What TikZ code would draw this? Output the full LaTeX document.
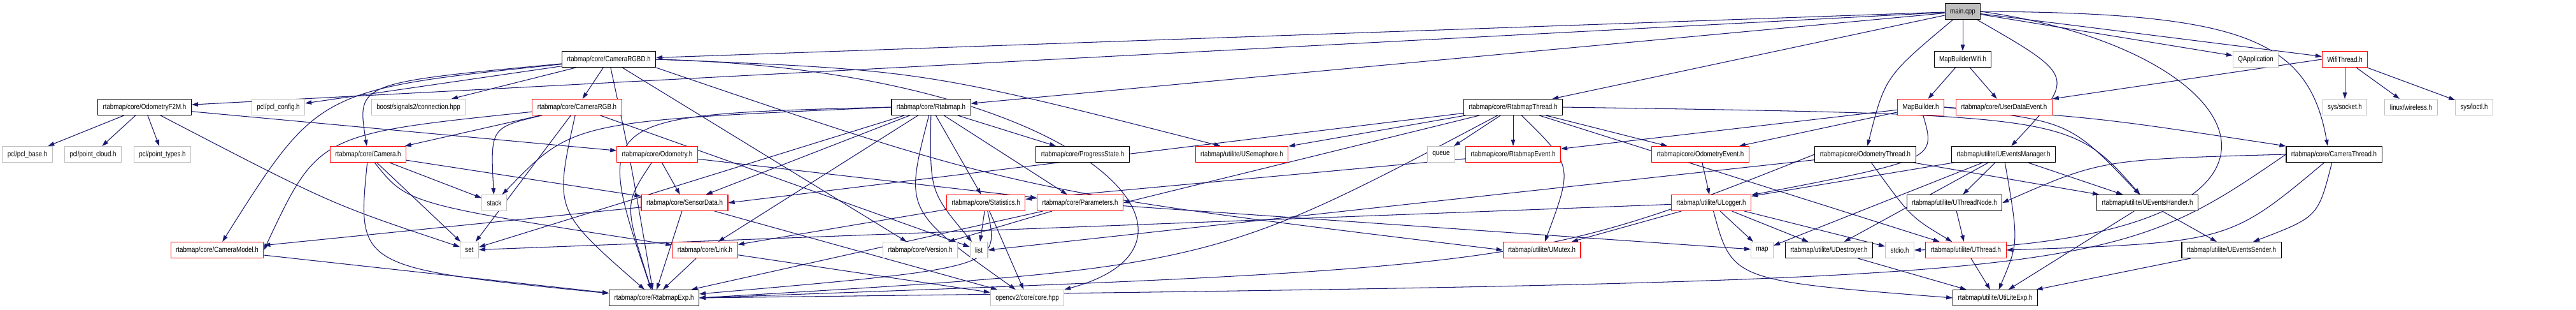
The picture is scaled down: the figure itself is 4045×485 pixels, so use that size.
\documentclass[tikz,border=0pt]{standalone}
\usepackage{fontspec}
\setmainfont{Liberation Sans}[FakeStretch=0.83]
\usetikzlibrary{arrows.meta,backgrounds}
\definecolor{EdgeColor}{RGB}{25,25,112}
\definecolor{CutColor}{RGB}{255,0,0}
\definecolor{ExtColor}{RGB}{191,191,191}

\begin{document}
\begin{tikzpicture}[x=0.02cm, y=-0.02cm, >={Triangle[length=0.2cm,width=0.13cm]},
    font=\fontsize{6.7pt}{8pt}\selectfont,
    box/.style={draw, line width=0.6pt, minimum height=0.5cm, inner xsep=0.16cm, inner ysep=0pt, fill=white},
    docbox/.style={box, draw=black},
    extbox/.style={box, draw=ExtColor},
    cutbox/.style={box, draw=CutColor},
    mainbox/.style={box, draw=black, fill=ExtColor},
    dep/.style={->, draw=EdgeColor, line width=0.6pt}]
  \useasboundingbox (0,0) rectangle (4045,485);
  % row 0 and 1
  \node[mainbox] (main) at (3082,18) {main.cpp};
  \node[docbox] (rgbd) at (956,93) {rtabmap/core/CameraRGBD.h};
  \node[docbox] (mbw) at (3082,93) {MapBuilderWifi.h};
  \node[extbox] (qapp) at (3542,93) {QApplication};
  \node[cutbox] (wifi) at (3682,93) {WifiThread.h};
  % row 2
  \node[docbox] (f2m) at (227,168) {rtabmap/core/OdometryF2M.h};
  \node[extbox] (pclcfg) at (437,168) {pcl/pcl\_config.h};
  \node[extbox] (boost) at (657,168) {boost/signals2/connection.hpp};
  \node[cutbox] (camrgb) at (906,168) {rtabmap/core/CameraRGB.h};
  \node[docbox] (rtabmap) at (1462,168) {rtabmap/core/Rtabmap.h};
  \node[docbox] (rthread) at (2376,168) {rtabmap/core/RtabmapThread.h};
  \node[cutbox] (mb) at (3016,168) {MapBuilder.h};
  \node[cutbox] (ude) at (3147,168) {rtabmap/core/UserDataEvent.h};
  \node[extbox] (socket) at (3682,168) {sys/socket.h};
  \node[extbox] (wireless) at (3786,168) {linux/wireless.h};
  \node[extbox] (ioctl) at (3885,168) {sys/ioctl.h};
  % row 3
  \node[extbox] (pclbase) at (43,242) {pcl/pcl\_base.h};
  \node[extbox] (pcloud) at (146,242) {pcl/point\_cloud.h};
  \node[extbox] (ptypes) at (255,242) {pcl/point\_types.h};
  \node[cutbox] (camera) at (578,242) {rtabmap/core/Camera.h};
  \node[cutbox] (odom) at (1032,242) {rtabmap/core/Odometry.h};
  \node[docbox] (pstate) at (1700,242) {rtabmap/core/ProgressState.h};
  \node[cutbox] (usem) at (1950,242) {rtabmap/utilite/USemaphore.h};
  \node[extbox] (queue) at (2263,242) {queue};
  \node[cutbox] (revent) at (2376,242) {rtabmap/core/RtabmapEvent.h};
  \node[cutbox] (oevent) at (2670,242) {rtabmap/core/OdometryEvent.h};
  \node[docbox] (othread) at (2929,242) {rtabmap/core/OdometryThread.h};
  \node[docbox] (uemgr) at (3146,242) {rtabmap/utilite/UEventsManager.h};
  \node[docbox] (cthread) at (3665,242) {rtabmap/core/CameraThread.h};
  % row 4
  \node[extbox] (stack) at (776,318) {stack};
  \node[cutbox] (sdata) at (1075,318) {rtabmap/core/SensorData.h};
  \node[cutbox] (stats) at (1548,318) {rtabmap/core/Statistics.h};
  \node[cutbox] (params) at (1696,318) {rtabmap/core/Parameters.h};
  \node[cutbox] (ulogger) at (2687,318) {rtabmap/utilite/ULogger.h};
  \node[docbox] (utnode) at (3069,318) {rtabmap/utilite/UThreadNode.h};
  \node[docbox] (uehandler) at (3372,318) {rtabmap/utilite/UEventsHandler.h};
  % row 5
  \node[cutbox] (cmodel) at (341,392) {rtabmap/core/CameraModel.h};
  \node[extbox] (set) at (737,392) {set};
  \node[cutbox] (link) at (1107,392) {rtabmap/core/Link.h};
  \node[extbox] (version) at (1445,392) {rtabmap/core/Version.h};
  \node[extbox] (list) at (1537,392) {list};
  \node[cutbox] (umutex) at (2421,392) {rtabmap/utilite/UMutex.h};
  \node[extbox] (map) at (2767,392) {map};
  \node[docbox] (udestroyer) at (2872,392) {rtabmap/utilite/UDestroyer.h};
  \node[extbox] (stdio) at (2983,392) {stdio.h};
  \node[cutbox] (uthread) at (3087,392) {rtabmap/utilite/UThread.h};
  \node[docbox] (uesender) at (3504,392) {rtabmap/utilite/UEventsSender.h};
  % row 6
  \node[docbox] (rexp) at (1027,467) {rtabmap/core/RtabmapExp.h};
  \node[extbox] (opencv) at (1613,467) {opencv2/core/core.hpp};
  \node[docbox] (ulexp) at (3133,467) {rtabmap/utilite/UtiLiteExp.h};
  \begin{pgfonlayer}{background}
    \draw[dep] (main) -- (rgbd);
    \draw[dep] (main) -- (f2m);
    \draw[dep] (main) -- (rtabmap);
    \draw[dep] (main) -- (rthread);
    \draw[dep] (main) -- (mbw);
    \draw[dep] (main) .. controls (2960,120) .. (othread);
    \draw[dep] (main) .. controls (3260,120) .. (uemgr);
    \draw[dep] (main) -- (qapp);
    \draw[dep] (main) -- (wifi);
    \draw[dep] (main.east) .. controls (3520,20) and (3625,60) .. ([xshift=-0.2cm]cthread.north);
    \draw[dep] (main.east) .. controls (3560,80) and (3700,380) .. (stdio.east);
    \draw[dep] (mbw) -- (mb);
    \draw[dep] (mbw) -- (ude);
    \draw[dep] (wifi) -- (socket);
    \draw[dep] (wifi) -- (wireless);
    \draw[dep] (wifi) -- (ioctl);
    \draw[dep] (wifi.west) -- (ude.north east);
    \draw[dep] (rgbd) -- (pclcfg);
    \draw[dep] (rgbd) -- (boost);
    \draw[dep] (rgbd) -- (camrgb);
    \draw[dep] (rgbd) .. controls (560,130) .. (camera);
    \draw[dep] (rgbd) .. controls (500,140) .. (cmodel);
    \draw[dep] (rgbd) .. controls (990,250) .. (rexp);
    \draw[dep] (rgbd.east) .. controls (1450,110) .. ([xshift=0.8cm]usem.north west);
    \draw[dep] (rgbd.east) .. controls (1700,110) and (1950,380) .. (opencv.north east);
    \draw[dep] (rgbd) -- (version);
    \draw[dep] (rgbd.south east) .. controls (1600,300) .. (umutex.west);
    \draw[dep] (camrgb) -- (camera);
    \draw[dep] (camrgb) .. controls (500,210) .. (cmodel.east);
    \draw[dep] (camrgb) .. controls (770,200) .. (stack);
    \draw[dep] (camrgb) -- (set);
    \draw[dep] (camrgb) -- (list);
    \draw[dep] (camrgb) .. controls (870,330) .. (rexp);
    \draw[dep] (f2m) -- (pclbase);
    \draw[dep] (f2m) -- (pcloud);
    \draw[dep] (f2m) -- (ptypes);
    \draw[dep] (f2m) -- (odom);
    \draw[dep] (f2m) .. controls (520,320) .. (set);
    \draw[dep] (camera) -- (sdata);
    \draw[dep] (camera) -- (stack);
    \draw[dep] (camera) -- (set);
    \draw[dep] (camera) .. controls (560,420) .. (rexp);
    \draw[dep] (camera) .. controls (640,320) .. (link);
    \draw[dep] (odom) -- (sdata);
    \draw[dep] (odom) .. controls (980,320) .. (rexp);
    \draw[dep] (odom) -- (params);
    \draw[dep] (cmodel) -- (rexp);
    \draw[dep] (sdata) -- (rexp);
    \draw[dep] (sdata) -- (opencv);
    \draw[dep] (sdata) -- (cmodel);
    \draw[dep] (link) -- (rexp);
    \draw[dep] (link) -- (opencv);
    \draw[dep] (stats) -- (list);
    \draw[dep] (stats) .. controls (1570,420) .. (rexp);
    \draw[dep] (stats) -- (opencv);
    \draw[dep] (stats) -- (link);
    \draw[dep] (params) -- (version);
    \draw[dep] (params) -- (rexp);
    \draw[dep] (params) -- (map);
    \draw[dep] (rtabmap.west) .. controls (930,180) .. (rexp);
    \draw[dep] (rtabmap) -- (params);
    \draw[dep] (rtabmap) -- (sdata);
    \draw[dep] (rtabmap) -- (stats);
    \draw[dep] (rtabmap) -- (link);
    \draw[dep] (rtabmap) -- (pstate);
    \draw[dep] (rtabmap) .. controls (1420,330) .. (opencv);
    \draw[dep] (rtabmap) .. controls (1460,300) .. (list);
    \draw[dep] (rtabmap.west) .. controls (900,190) .. (stack);
    \draw[dep] (rtabmap) -- (set);
    \draw[dep] (rthread) .. controls (1900,420) .. (rexp.east);
    \draw[dep] (rthread) -- (uthread);
    \draw[dep] (rthread.east) .. controls (3250,180) .. (uehandler);
    \draw[dep] (rthread) -- (usem);
    \draw[dep] (rthread) .. controls (2470,260) .. (umutex);
    \draw[dep] (rthread) -- (revent);
    \draw[dep] (rthread) -- (sdata.east);
    \draw[dep] (rthread) -- (params.east);
    \draw[dep] (rthread) -- (oevent);
    \draw[dep] (rthread) -- (queue);
    \draw[dep] (revent) -- (stats);
    \draw[dep] (oevent) -- (ulogger);
    \draw[dep] (othread.west) .. controls (2400,420) .. (rexp.east);
    \draw[dep] (othread) .. controls (3000,340) .. (uthread);
    \draw[dep] (othread) -- (uehandler);
    \draw[dep] (othread) -- (list.east);
    \draw[dep] (cthread.west) .. controls (3300,440) .. (rexp.east);
    \draw[dep] (cthread.west) .. controls (3300,250) .. (utnode.east);
    \draw[dep] (cthread) .. controls (3500,380) .. (uthread.east);
    \draw[dep] (cthread) .. controls (3640,340) .. (uesender);
    \draw[dep] (mb) -- (revent);
    \draw[dep] (mb) -- (oevent);
    \draw[dep] (mb.east) .. controls (3300,185) .. (cthread.north west);
    \draw[dep] (mb.east) .. controls (3250,190) .. (uehandler);
    \draw[dep] (mb) .. controls (3040,250) .. (ulogger);
    \draw[dep] (uemgr) .. controls (3170,380) .. (ulexp);
    \draw[dep] (uemgr) -- (uehandler);
    \draw[dep] (uemgr) -- (utnode);
    \draw[dep] (uemgr) -- (udestroyer);
    \draw[dep] (uemgr) -- (ulogger);
    \draw[dep] (uemgr) -- (map);
    \draw[dep] (utnode) -- (uthread);
    \draw[dep] (uthread) -- (ulexp);
    \draw[dep] (udestroyer) -- (ulexp);
    \draw[dep] (ulogger) .. controls (2720,440) .. (ulexp.west);
    \draw[dep] (ulogger) -- (umutex);
    \draw[dep] (ulogger) -- (udestroyer);
    \draw[dep] (ulogger) -- (stdio);
    \draw[dep] (ulogger) -- (map);
    \draw[dep] (ulogger) -- (set);
    \draw[dep] (uehandler) -- (uesender);
    \draw[dep] (uehandler) -- (ulexp);
    \draw[dep] (uesender) -- (ulexp);
  \end{pgfonlayer}
\end{tikzpicture}
\end{document}
